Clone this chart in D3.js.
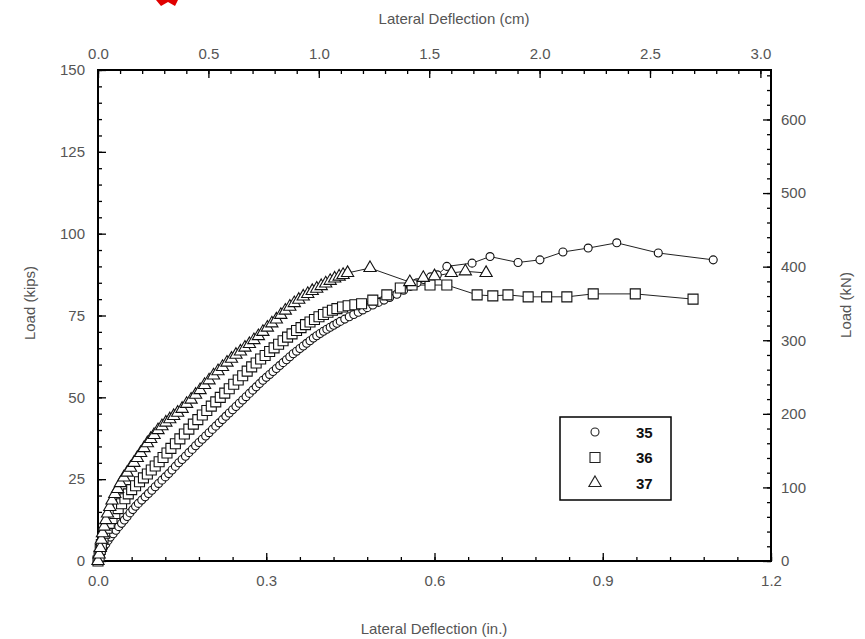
<!DOCTYPE html>
<html>
<head>
<meta charset="utf-8">
<script src="https://cdn.jsdelivr.net/npm/d3@7"></script>
<style>
  html, body { margin: 0; padding: 0; background: #fff; }
  svg { display: block; }
  text { font-family: "Liberation Sans", Arial, sans-serif; }
</style>
</head>
<body>
<svg id="chart" width="865" height="639"></svg>
<script>
// ---------------- data ----------------
const seriesNames = ["35", "36", "37"];
const seriesShapes = ["circle", "square", "triangle"];

// Specimen 35 (circles): lateral deflection (in.), load (kips)
const x35 = [0, .002, .004, .007, .01, .014, .018, .022, .027, .032, .037, .042, .047, .052, .057, .062, .067, .072, .078, .084, .09, .096, .102, .108, .114, .12, .126, .132, .138, .144, .15, .156, .162, .168, .174, .18, .186, .192, .198, .204, .21, .216, .222, .228, .234, .24, .246, .252, .258, .264, .27, .276, .282, .288, .294, .3, .306, .312, .318, .324, .33, .336, .342, .348, .354, .36, .366, .372, .378, .384, .39, .396, .402, .408, .414, .42, .426, .432, .44, .448, .456, .464, .472, .48, .49, .5, .51, .52, .533, .545, .557, .569, .581, .593, .605, .622, .667, .699, .749, .788, .829, .874, .925, .999, 1.097];
const y35 = [0, 1, 2, 3.2, 4.2, 5.2, 6.3, 7.3, 8.3, 9.4, 10.5, 11.5, 12.5, 13.6, 14.7, 15.7, 16.7, 17.6, 18.6, 19.6, 20.6, 21.6, 22.7, 23.7, 24.7, 25.7, 26.7, 27.8, 28.9, 30, 31, 32, 33.1, 34.1, 35.2, 36.2, 37.2, 38.2, 39.2, 40.2, 41.2, 42.2, 43.2, 44.2, 45.2, 46.2, 47.2, 48.2, 49.2, 50.2, 51.2, 52.2, 53.2, 54.2, 55.2, 56.1, 57, 57.9, 58.8, 59.7, 60.6, 61.5, 62.4, 63.3, 64.1, 64.9, 65.7, 66.5, 67.3, 68.1, 68.8, 69.5, 70.2, 70.8, 71.4, 72, 72.6, 73.2, 73.9, 74.6, 75.3, 76, 76.7, 77.4, 78.2, 79, 79.7, 80.5, 81.5, 82.7, 83.9, 85, 86, 86.8, 87.4, 90, 91, 93, 91.2, 92, 94.4, 95.6, 97.2, 94.1, 92];

// Specimen 36 (squares)
const x36 = [0, .002, .004, .006, .009, .012, .016, .02, .025, .03, .036, .042, .048, .054, .06, .067, .074, .081, .088, .095, .102, .109, .116, .123, .13, .138, .146, .154, .162, .17, .178, .186, .194, .202, .21, .218, .226, .234, .242, .25, .258, .266, .274, .282, .29, .298, .306, .314, .322, .33, .338, .346, .354, .362, .37, .378, .386, .394, .402, .41, .418, .426, .436, .446, .458, .47, .49, .515, .539, .56, .592, .622, .676, .704, .731, .767, .8, .836, .883, .958, 1.061];
const y36 = [0, 1.5, 3.5, 5, 7, 8.5, 10, 11.5, 13, 14.5, 16, 17.5, 19, 20.5, 21.8, 23, 24.2, 25.4, 26.6, 27.8, 29, 30.3, 31.6, 33, 34.4, 35.8, 37.3, 38.8, 40.3, 41.8, 43.2, 44.6, 46, 47.3, 48.6, 50, 51.3, 52.6, 54, 55.3, 56.6, 58, 59.3, 60.5, 61.7, 62.8, 64, 65.1, 66.2, 67.3, 68.4, 69.4, 70.4, 71.3, 72.2, 73, 73.8, 74.6, 75.3, 76, 76.6, 77.1, 77.6, 78, 78.3, 78.6, 79.7, 81.3, 83.4, 84.3, 84.3, 84.3, 81.3, 81, 81.3, 80.7, 80.7, 80.7, 81.6, 81.6, 80];

// Specimen 37 (triangles)
const x37 = [0, .002, .004, .006, .008, .011, .014, .017, .021, .025, .03, .035, .04, .046, .052, .058, .064, .07, .076, .082, .088, .094, .1, .107, .114, .121, .128, .135, .142, .15, .158, .166, .174, .182, .19, .198, .206, .214, .222, .23, .238, .246, .254, .262, .27, .278, .286, .294, .302, .31, .318, .326, .334, .342, .35, .358, .366, .374, .382, .39, .398, .406, .414, .422, .43, .437, .445, .485, .556, .58, .6, .63, .655, .692];
const y37 = [0, 2, 4, 6.5, 8.5, 10.5, 12.5, 14.5, 16.5, 18.5, 20.5, 22, 23.8, 25.5, 27, 28.5, 30, 31.5, 33, 34.5, 36, 37.3, 38.5, 40, 41.2, 42.3, 43.3, 44.3, 45.3, 46.5, 48, 49.3, 50.8, 52.2, 53.8, 55.2, 56.7, 58, 59.3, 60.6, 61.8, 63, 64, 65.2, 66.3, 67.5, 68.7, 70, 71.3, 72.6, 73.8, 75.2, 76.5, 77.7, 78.8, 79.8, 80.8, 81.6, 82.5, 83.2, 84, 84.8, 85.6, 86.3, 86.9, 87.4, 88, 89.5, 85.2, 86.5, 87, 88, 88.5, 88];

// axis ticks
const xTicksIn = [0, 0.3, 0.6, 0.9, 1.2];
const xTicksCm = [0, 0.5, 1.0, 1.5, 2.0, 2.5, 3.0];
const yTicksKips = [0, 25, 50, 75, 100, 125, 150];
const yTicksKN = [0, 100, 200, 300, 400, 500, 600];

// ---------------- layout ----------------
const svg = d3.select("#chart");
const L = 98, R = 771, T = 70, B = 561;
const KN_PER_KIP = 4.448222;
const CM_PER_IN = 2.54;

const x = d3.scaleLinear().domain([0, 1.2]).range([L, R]);
const xcm = d3.scaleLinear().domain([0, 1.2 * CM_PER_IN]).range([L, R]);
const y = d3.scaleLinear().domain([0, 150]).range([B, T]);
const ykn = d3.scaleLinear().domain([0, 150 * KN_PER_KIP]).range([B, T]);

const labelColor = "#555";
const fontSize = 15;

function styleAxis(g) {
  g.selectAll(".domain").remove();
  g.selectAll(".tick line").attr("stroke", "#000").attr("stroke-width", 1.3);
  g.selectAll("text").attr("fill", labelColor).attr("font-size", fontSize)
    .attr("font-family", "Liberation Sans, Arial, sans-serif");
}

const minorIn = d3.range(0, 1.2001, 0.06);
const minorCm = d3.range(0, 3.0001, 0.1);
const minorKips = d3.range(0, 150.001, 5);
const minorKN = d3.range(0, 660.001, 20);

// bottom axis
svg.append("g").attr("transform", `translate(0,${B})`)
  .call(d3.axisBottom(x).tickValues(minorIn).tickFormat("").tickSize(-4)).call(styleAxis);
svg.append("g").attr("transform", `translate(0,${B})`)
  .call(d3.axisBottom(x).tickValues(xTicksIn).tickFormat(d3.format(".1f")).tickSize(-8).tickPadding(14)).call(styleAxis);

// top axis (cm)
svg.append("g").attr("transform", `translate(0,${T})`)
  .call(d3.axisTop(xcm).tickValues(minorCm).tickFormat("").tickSize(-4)).call(styleAxis);
svg.append("g").attr("transform", `translate(0,${T})`)
  .call(d3.axisTop(xcm).tickValues(xTicksCm).tickFormat(d3.format(".1f")).tickSize(-8).tickPadding(11)).call(styleAxis);

// left axis (kips)
svg.append("g").attr("transform", `translate(${L},0)`)
  .call(d3.axisLeft(y).tickValues(minorKips).tickFormat("").tickSize(-4)).call(styleAxis);
svg.append("g").attr("transform", `translate(${L},0)`)
  .call(d3.axisLeft(y).tickValues(yTicksKips).tickFormat(d3.format("d")).tickSize(-8).tickPadding(13)).call(styleAxis);

// right axis (kN)
svg.append("g").attr("transform", `translate(${R},0)`)
  .call(d3.axisRight(ykn).tickValues(minorKN).tickFormat("").tickSize(-4)).call(styleAxis);
svg.append("g").attr("transform", `translate(${R},0)`)
  .call(d3.axisRight(ykn).tickValues(yTicksKN).tickFormat(d3.format("d")).tickSize(-8).tickPadding(10)).call(styleAxis);

// frame
svg.append("rect").attr("x", L).attr("y", T).attr("width", R - L).attr("height", B - T)
  .attr("fill", "none").attr("stroke", "#000").attr("stroke-width", 2);

// titles
svg.append("text").attr("x", 454).attr("y", 24).attr("text-anchor", "middle")
  .attr("font-size", fontSize).attr("fill", labelColor).text("Lateral Deflection (cm)");
svg.append("text").attr("x", 434).attr("y", 634).attr("text-anchor", "middle")
  .attr("font-size", fontSize).attr("fill", labelColor).text("Lateral Deflection (in.)");
svg.append("text").attr("transform", "translate(35,303) rotate(-90)").attr("text-anchor", "middle")
  .attr("font-size", fontSize).attr("fill", labelColor).text("Load (kips)");
svg.append("text").attr("transform", "translate(851,305) rotate(-90)").attr("text-anchor", "middle")
  .attr("font-size", fontSize).attr("fill", labelColor).text("Load (kN)");

// ---------------- series ----------------
const symbolFor = {
  circle: d3.symbol().type(d3.symbolCircle).size(50),
  square: d3.symbol().type(d3.symbolSquare).size(100),
  triangle: d3.symbol().type(d3.symbolTriangle).size(65)
};

const series = [
  { name: seriesNames[0], shape: seriesShapes[0], xs: x35, ys: y35 },
  { name: seriesNames[1], shape: seriesShapes[1], xs: x36, ys: y36 },
  { name: seriesNames[2], shape: seriesShapes[2], xs: x37, ys: y37 }
];

const line = d3.line().x(d => x(d[0])).y(d => y(d[1]));

series.forEach(s => {
  const pts = s.xs.map((v, i) => [v, s.ys[i]]);
  svg.append("path").datum(pts).attr("d", line)
    .attr("fill", "none").attr("stroke", "#222").attr("stroke-width", 1);
});

series.forEach(s => {
  const pts = s.xs.map((v, i) => [v, s.ys[i]]);
  svg.append("g").selectAll("path").data(pts).join("path")
    .attr("d", symbolFor[s.shape])
    .attr("transform", d => `translate(${x(d[0])},${y(d[1])})`)
    .attr("fill", "#fff").attr("stroke", "#111").attr("stroke-width", 1.1);
});

// ---------------- legend ----------------
const lg = svg.append("g");
lg.append("rect").attr("x", 560).attr("y", 417).attr("width", 111).attr("height", 83)
  .attr("fill", "#fff").attr("stroke", "#000").attr("stroke-width", 1.5);
series.forEach((s, i) => {
  const cy = 432 + i * 25.5;
  lg.append("path").attr("d", symbolFor[s.shape])
    .attr("transform", `translate(595,${cy})`)
    .attr("fill", "#fff").attr("stroke", "#222").attr("stroke-width", 1.1);
  lg.append("text").attr("x", 636).attr("y", cy + 5.5)
    .attr("font-size", 15).attr("font-weight", "bold").attr("fill", "#111").text(s.name);
});

// red arrow fragment at top-left
svg.append("path").attr("d", "M156,0 L178,0 L175,6 L168,2 L161,6 Z").attr("fill", "#e00000");
</script>
</body>
</html>
